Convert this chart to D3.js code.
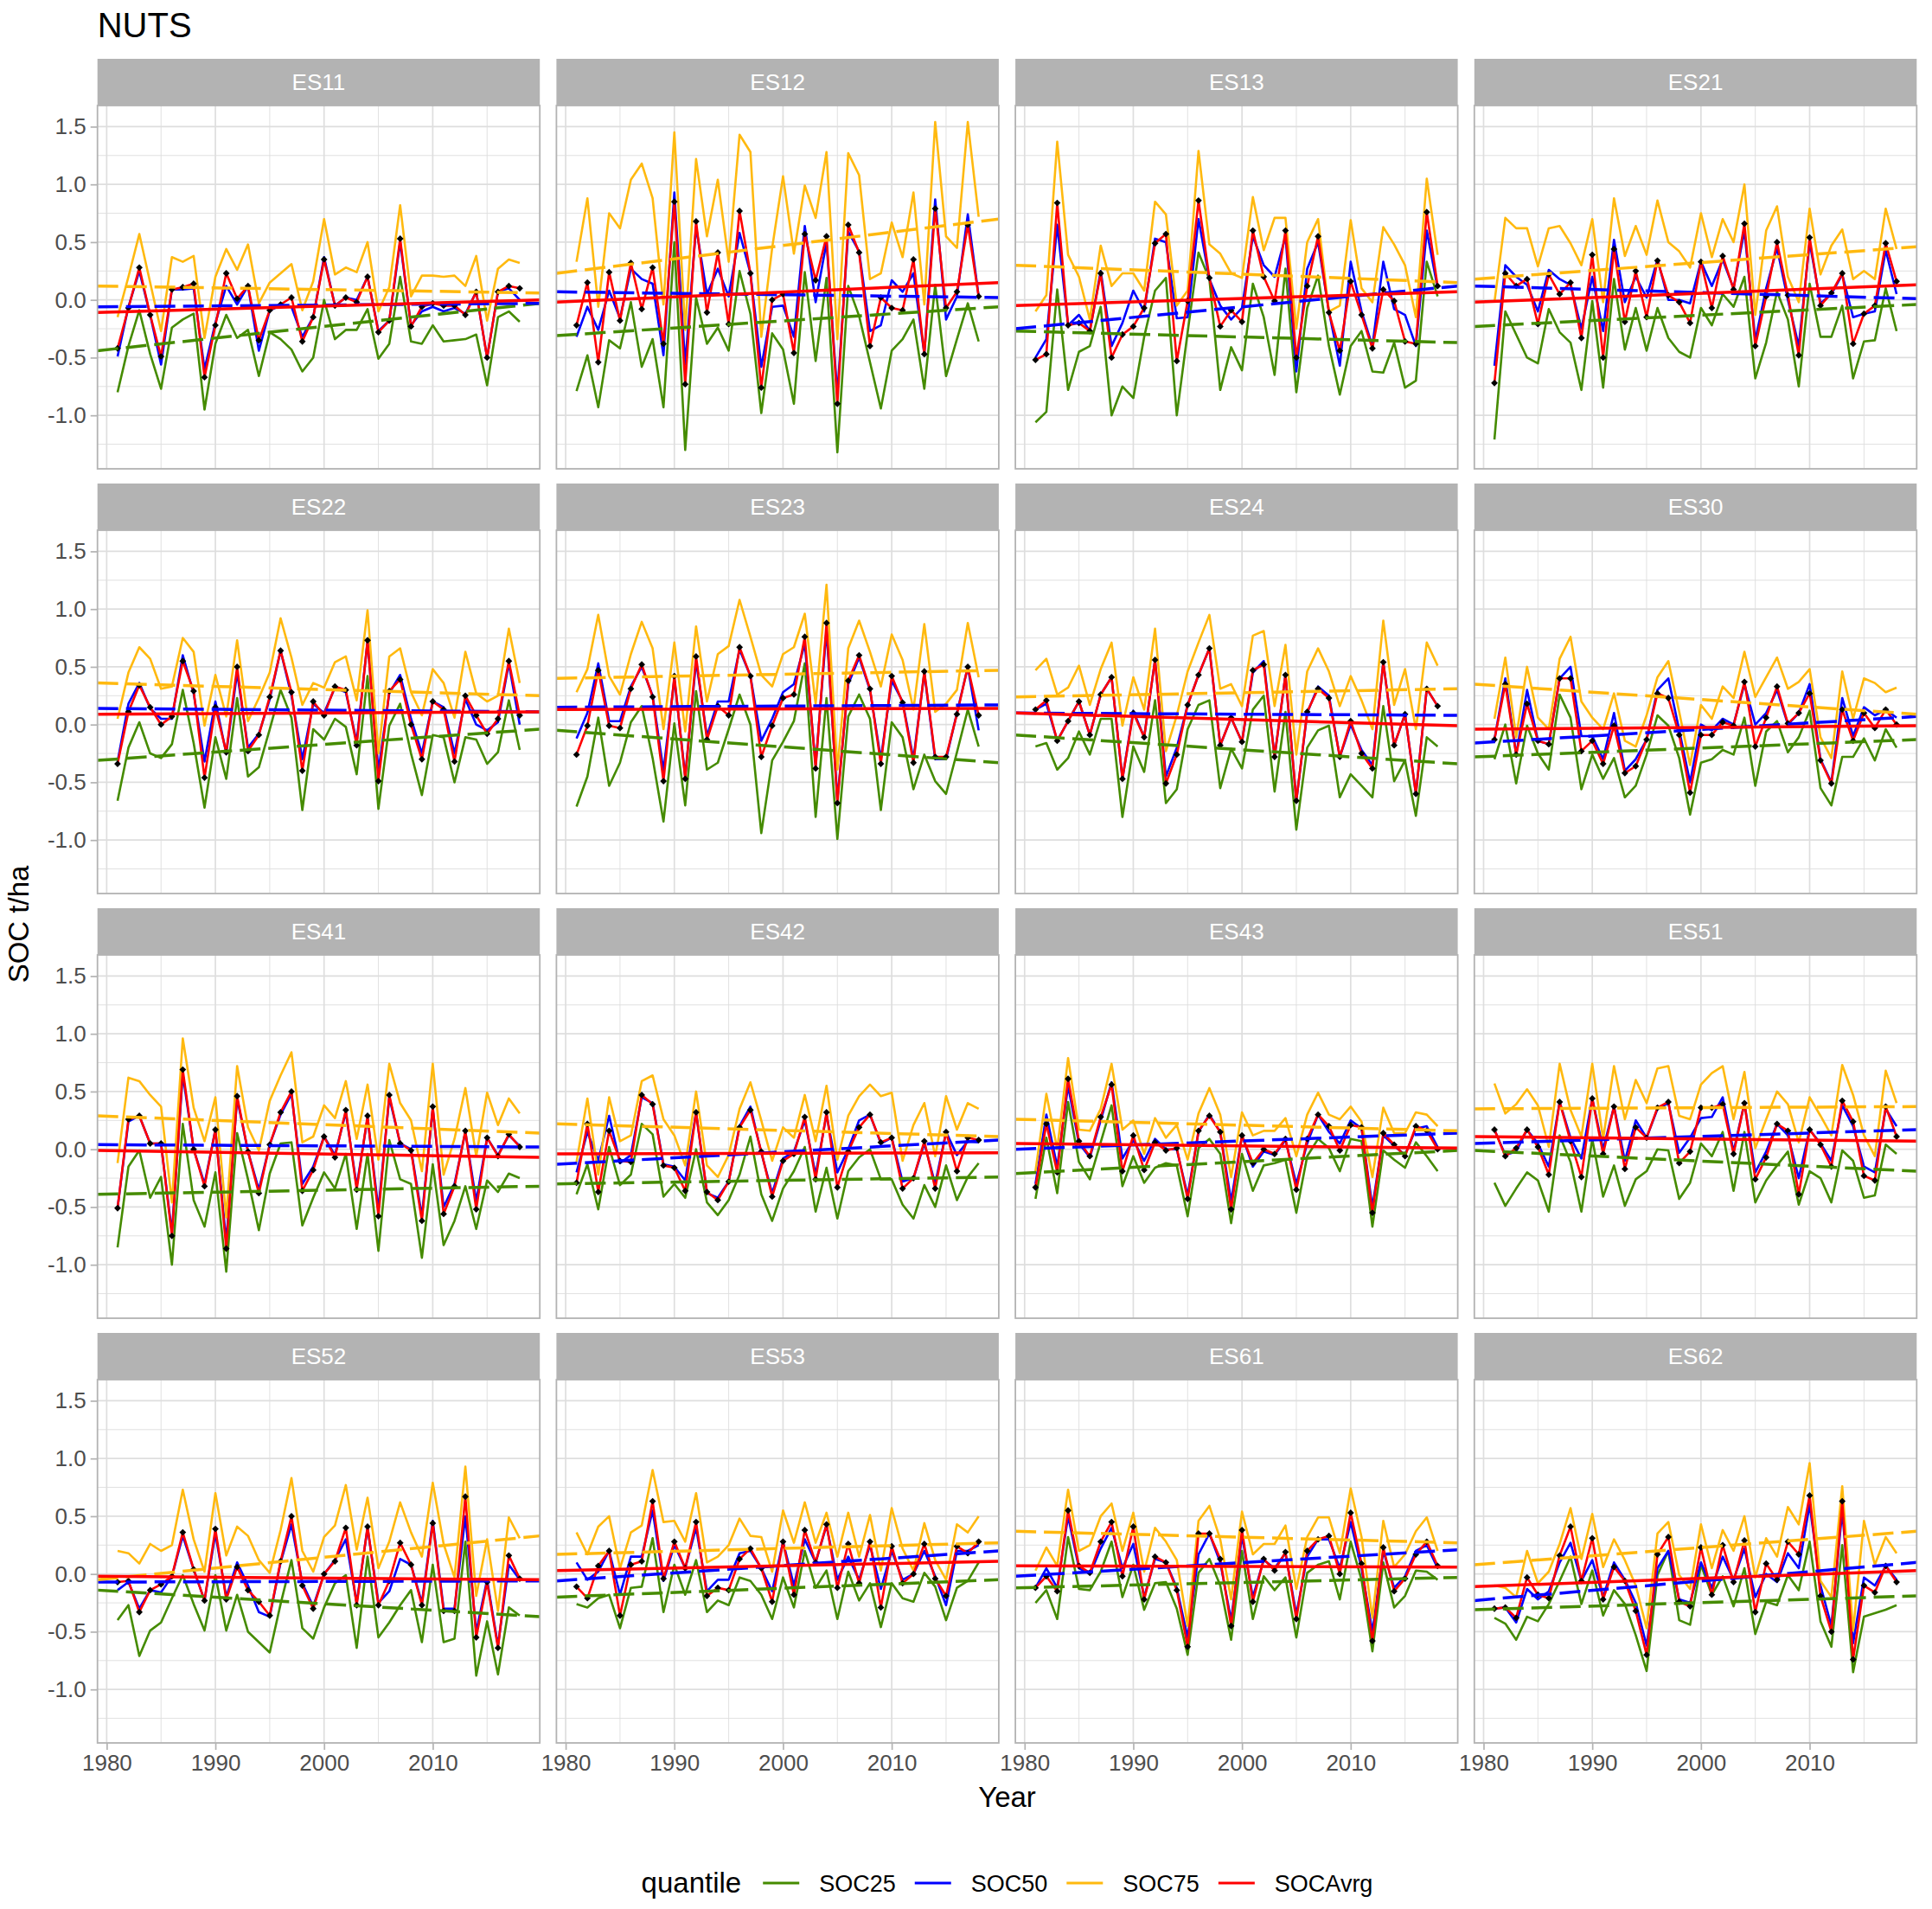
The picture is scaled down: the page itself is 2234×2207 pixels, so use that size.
<!DOCTYPE html>
<html>
<head>
<meta charset="utf-8">
<script src="https://cdn.jsdelivr.net/npm/d3@7"></script>
<style>
  body { margin: 0; background: #fff; }
  text { font-family: "Liberation Sans", Arial, sans-serif; }
</style>
</head>
<body>
<div id="chart"></div>
<script>
// ---- data ----
const years = [1981,1982,1983,1984,1985,1986,1987,1988,1989,1990,1991,1992,1993,1994,1995,1996,1997,1998,1999,2000,
               2001,2002,2003,2004,2005,2006,2007,2008,2009,2010,2011,2012,2013,2014,2015,2016,2017,2018];
const regions = ["ES11","ES12","ES13","ES21","ES22","ES23","ES24","ES30","ES41","ES42","ES43","ES51","ES52","ES53","ES61","ES62"];
const quantiles = ["SOC25","SOC50","SOC75","SOCAvrg"];
const yTickLabels = ["-1.0","-0.5","0.0","0.5","1.0","1.5"];
const xTickLabels = ["1980","1990","2000","2010"];

const ES11_SOC25 = [-0.8,-0.4,-0.09,-0.47,-0.77,-0.24,-0.17,-0.12,-0.95,-0.38,-0.13,-0.33,-0.26,-0.66,-0.28,-0.34,-0.43,-0.62,-0.5,0.0,-0.34,-0.26,-0.26,-0.08,-0.51,-0.38,0.2,-0.36,-0.38,-0.22,-0.36,-0.35,-0.34,-0.3,-0.74,-0.15,-0.1,-0.19];
const ES11_SOC50 = [-0.49,-0.06,0.25,-0.13,-0.56,0.09,0.09,0.1,-0.6,-0.2,0.12,-0.04,0.12,-0.44,-0.09,-0.05,-0.06,-0.32,-0.15,0.37,-0.05,0.02,0.0,0.2,-0.27,-0.18,0.5,-0.22,-0.1,-0.06,-0.1,-0.07,-0.12,0.07,-0.5,0.07,0.1,0.0];
const ES11_SOC75 = [-0.15,0.2,0.57,0.15,-0.27,0.37,0.33,0.38,-0.33,0.2,0.44,0.26,0.48,-0.03,0.15,0.23,0.31,-0.09,0.16,0.7,0.22,0.28,0.24,0.5,-0.1,0.11,0.82,0.03,0.21,0.21,0.2,0.21,0.12,0.38,-0.18,0.27,0.35,0.32];
const ES11_SOCAvrg = [-0.42,-0.07,0.28,-0.13,-0.49,0.09,0.11,0.14,-0.67,-0.22,0.23,0.01,0.12,-0.35,-0.09,-0.04,0.02,-0.36,-0.15,0.35,-0.05,0.02,-0.02,0.2,-0.28,-0.18,0.53,-0.23,-0.06,-0.03,-0.05,-0.05,-0.13,0.07,-0.5,0.07,0.12,0.1];

const ES12_SOC25 = [-0.79,-0.48,-0.93,-0.35,-0.42,-0.02,-0.58,-0.34,-0.93,0.5,-1.3,0.02,-0.38,-0.24,-0.44,0.25,-0.12,-0.98,-0.29,-0.43,-0.9,0.24,-0.53,0.19,-1.32,0.12,-0.14,-0.54,-0.94,-0.44,-0.34,-0.17,-0.77,0.13,-0.66,-0.34,-0.03,-0.36];
const ES12_SOC50 = [-0.32,-0.06,-0.26,0.08,-0.16,0.27,0.18,0.14,-0.48,0.93,-0.56,0.63,0.05,0.27,0.03,0.58,0.23,-0.58,-0.06,-0.05,-0.32,0.64,-0.02,0.5,-0.82,0.59,0.42,-0.27,-0.22,0.17,0.07,0.23,-0.47,0.87,-0.17,0.03,0.74,0.03];
const ES12_SOC75 = [0.33,0.88,-0.06,0.75,0.62,1.04,1.18,0.88,-0.04,1.45,-0.26,1.22,0.55,1.04,0.33,1.43,1.28,-0.32,0.45,1.07,0.4,0.99,0.71,1.28,-0.34,1.27,1.08,0.18,0.23,0.67,0.37,0.93,-0.04,1.54,0.55,0.45,1.54,0.72];
const ES12_SOCAvrg = [-0.22,0.15,-0.54,0.24,-0.18,0.32,-0.08,0.28,-0.38,0.85,-0.73,0.68,-0.11,0.41,-0.21,0.77,0.23,-0.76,0.0,0.05,-0.46,0.57,0.17,0.55,-0.9,0.65,0.41,-0.4,0.02,-0.07,-0.09,0.35,-0.47,0.79,-0.07,0.07,0.65,0.03];

const ES13_SOC25 = [-1.06,-0.97,0.09,-0.78,-0.45,-0.4,-0.06,-1.0,-0.75,-0.85,-0.32,0.08,0.19,-1.0,-0.28,0.41,0.18,-0.78,-0.41,-0.61,0.14,-0.15,-0.65,0.27,-0.8,-0.07,0.21,-0.4,-0.82,-0.4,-0.27,-0.62,-0.63,-0.37,-0.76,-0.7,0.33,0.03];
const ES13_SOC50 = [-0.5,-0.34,0.65,-0.22,-0.13,-0.27,0.25,-0.4,-0.2,0.08,-0.1,0.53,0.5,-0.16,-0.15,0.7,0.18,-0.05,-0.17,-0.07,0.55,0.3,0.2,0.55,-0.62,0.27,0.5,-0.1,-0.57,0.33,-0.1,-0.4,0.33,-0.08,-0.13,-0.4,0.6,0.1];
const ES13_SOC75 = [-0.1,0.04,1.37,0.39,0.2,-0.17,0.47,0.12,0.23,0.23,0.08,0.85,0.74,-0.05,0.08,1.29,0.48,0.4,0.23,0.19,0.89,0.43,0.71,0.71,-0.25,0.5,0.7,-0.1,-0.05,0.69,0.1,-0.02,0.63,0.48,0.3,-0.15,1.05,0.39];
const ES13_SOCAvrg = [-0.52,-0.47,0.84,-0.22,-0.2,-0.27,0.23,-0.5,-0.3,-0.23,-0.07,0.49,0.57,-0.53,-0.01,0.86,0.19,-0.23,-0.09,-0.19,0.6,0.2,-0.01,0.6,-0.5,0.12,0.55,-0.11,-0.44,0.16,-0.13,-0.42,0.09,-0.01,-0.36,-0.38,0.76,0.12];

const ES21_SOC25 = [-1.21,-0.1,-0.3,-0.5,-0.55,-0.08,-0.28,-0.37,-0.78,-0.01,-0.76,0.18,-0.43,-0.07,-0.44,-0.07,-0.33,-0.45,-0.5,-0.07,-0.22,0.05,-0.06,0.2,-0.68,-0.37,0.07,-0.17,-0.75,0.14,-0.32,-0.32,-0.05,-0.68,-0.36,-0.35,0.1,-0.27];
const ES21_SOC50 = [-0.57,0.3,0.2,0.13,-0.1,0.26,0.18,0.13,-0.25,0.2,-0.27,0.52,-0.02,0.2,0.02,0.35,0.0,0.0,-0.03,0.33,0.12,0.35,0.1,0.6,-0.35,0.1,0.45,0.0,-0.4,0.5,-0.03,0.05,0.22,-0.15,-0.12,-0.1,0.43,0.05];
const ES21_SOC75 = [-0.02,0.71,0.62,0.62,0.29,0.62,0.64,0.49,0.3,0.7,-0.02,0.88,0.38,0.64,0.39,0.86,0.5,0.42,0.28,0.75,0.37,0.7,0.5,1.0,-0.13,0.6,0.81,0.2,-0.02,0.79,0.22,0.47,0.61,0.18,0.25,0.18,0.79,0.44];
const ES21_SOCAvrg = [-0.72,0.23,0.12,0.18,-0.21,0.22,0.05,0.15,-0.33,0.39,-0.5,0.44,-0.19,0.25,-0.15,0.34,0.04,-0.02,-0.2,0.33,-0.07,0.38,0.09,0.66,-0.4,0.03,0.5,0.04,-0.48,0.54,-0.05,0.06,0.23,-0.38,-0.12,-0.05,0.49,0.16];

const ES22_SOC25 = [-0.66,-0.2,0.02,-0.25,-0.29,-0.17,0.3,-0.16,-0.72,-0.11,-0.47,0.23,-0.45,-0.37,-0.04,0.3,0.06,-0.74,-0.04,-0.13,0.05,-0.02,-0.43,0.42,-0.73,-0.01,0.18,-0.25,-0.61,-0.09,-0.11,-0.5,-0.11,-0.13,-0.34,-0.24,0.21,-0.22];
const ES22_SOC50 = [-0.32,0.18,0.36,0.14,0.05,0.05,0.6,0.27,-0.32,0.2,-0.25,0.45,-0.2,-0.08,0.22,0.64,0.25,-0.3,0.18,0.1,0.32,0.28,-0.15,0.72,-0.4,0.27,0.43,0.05,-0.25,0.2,0.15,-0.25,0.22,0.0,-0.05,0.02,0.53,0.0];
const ES22_SOC75 = [0.05,0.45,0.67,0.57,0.31,0.33,0.75,0.63,-0.01,0.43,0.07,0.73,0.03,0.23,0.45,0.92,0.58,0.17,0.36,0.32,0.54,0.59,0.21,0.99,-0.25,0.59,0.66,0.28,0.08,0.48,0.36,0.06,0.63,0.27,0.2,0.25,0.83,0.36];
const ES22_SOCAvrg = [-0.34,0.11,0.34,0.15,0.0,0.07,0.55,0.29,-0.46,0.15,-0.24,0.5,-0.23,-0.09,0.24,0.64,0.28,-0.4,0.2,0.08,0.33,0.3,-0.18,0.73,-0.49,0.29,0.39,0.0,-0.3,0.2,0.13,-0.32,0.25,0.08,-0.08,0.05,0.55,0.08];

const ES23_SOC25 = [-0.71,-0.45,0.06,-0.53,-0.33,0.02,0.16,-0.29,-0.84,0.01,-0.7,0.29,-0.39,-0.33,-0.04,0.26,0.0,-0.94,-0.31,-0.15,0.03,0.53,-0.8,0.23,-0.99,0.07,0.26,0.05,-0.74,0.02,-0.11,-0.56,-0.26,-0.49,-0.6,-0.24,0.13,-0.19];
const ES23_SOC50 = [-0.12,0.1,0.53,0.03,0.03,0.33,0.5,0.25,-0.4,0.4,-0.45,0.55,-0.1,0.2,0.2,0.65,0.42,-0.14,0.05,0.28,0.35,0.7,-0.35,0.82,-0.65,0.35,0.58,0.3,-0.3,0.38,0.2,-0.3,0.45,-0.3,-0.3,0.1,0.5,-0.05];
const ES23_SOC75 = [0.28,0.48,0.95,0.42,0.26,0.61,0.89,0.66,-0.04,0.71,-0.06,0.85,0.2,0.61,0.68,1.08,0.76,0.43,0.33,0.61,0.67,0.96,0.18,1.21,-0.39,0.66,0.9,0.63,0.33,0.78,0.56,0.13,0.87,0.11,0.18,0.3,0.88,0.41];
const ES23_SOCAvrg = [-0.26,-0.01,0.47,-0.01,-0.03,0.31,0.52,0.24,-0.49,0.42,-0.47,0.59,-0.13,0.16,0.08,0.67,0.42,-0.28,-0.01,0.23,0.26,0.76,-0.38,0.88,-0.68,0.38,0.6,0.31,-0.34,0.42,0.19,-0.33,0.46,-0.28,-0.28,0.09,0.5,0.08];

const ES24_SOC25 = [-0.19,-0.16,-0.39,-0.29,-0.06,-0.26,0.05,0.05,-0.8,-0.19,-0.41,0.21,-0.68,-0.56,-0.04,0.17,0.21,-0.55,-0.21,-0.38,0.13,0.25,-0.58,0.11,-0.91,-0.2,-0.05,-0.01,-0.63,-0.43,-0.53,-0.63,0.16,-0.49,-0.31,-0.79,-0.11,-0.19];
const ES24_SOC50 = [0.13,0.18,-0.14,0.03,0.2,-0.09,0.26,0.41,-0.47,0.12,-0.11,0.56,-0.45,-0.2,0.17,0.43,0.66,-0.18,0.06,-0.15,0.45,0.55,-0.28,0.43,-0.66,0.1,0.33,0.25,-0.28,0.0,-0.22,-0.35,0.54,-0.18,0.09,-0.6,0.31,0.16];
const ES24_SOC75 = [0.47,0.57,0.26,0.32,0.51,0.17,0.48,0.71,-0.01,0.41,0.13,0.83,-0.23,0.08,0.46,0.71,0.95,0.31,0.35,0.16,0.77,0.81,0.16,0.69,-0.26,0.46,0.66,0.46,0.16,0.42,0.21,-0.04,0.9,0.17,0.48,-0.04,0.71,0.51];
const ES24_SOCAvrg = [0.13,0.21,-0.14,0.03,0.2,-0.09,0.26,0.41,-0.47,0.1,-0.11,0.56,-0.51,-0.26,0.17,0.43,0.66,-0.18,0.06,-0.15,0.47,0.52,-0.28,0.43,-0.66,0.11,0.31,0.23,-0.28,0.03,-0.25,-0.38,0.54,-0.18,0.09,-0.6,0.31,0.16];

const ES30_SOC25 = [-0.3,0.0,-0.51,-0.01,-0.25,-0.39,0.26,0.06,-0.56,-0.26,-0.47,-0.29,-0.63,-0.53,-0.26,0.08,-0.01,-0.29,-0.78,-0.33,-0.3,-0.22,-0.26,0.06,-0.53,-0.06,0.03,-0.24,-0.11,0.12,-0.55,-0.7,-0.28,-0.28,-0.12,-0.31,-0.04,-0.2];
const ES30_SOC50 = [-0.13,0.4,-0.26,0.3,-0.14,-0.17,0.4,0.5,-0.1,-0.1,-0.3,0.1,-0.4,-0.3,-0.13,0.3,0.4,-0.05,-0.5,0.0,-0.05,0.05,0.0,0.35,0.0,0.1,0.3,0.0,0.1,0.35,-0.3,-0.5,0.23,-0.1,0.15,0.08,0.13,0.06];
const ES30_SOC75 = [0.05,0.58,-0.11,0.5,0.06,-0.04,0.57,0.76,0.2,0.06,-0.04,0.27,-0.14,-0.19,0.08,0.41,0.55,0.11,-0.35,0.17,0.05,0.33,0.23,0.63,0.24,0.41,0.58,0.31,0.37,0.48,-0.11,-0.29,0.46,0.05,0.4,0.36,0.28,0.32];
const ES30_SOCAvrg = [-0.13,0.35,-0.26,0.18,-0.14,-0.17,0.4,0.4,-0.23,-0.14,-0.34,-0.01,-0.42,-0.36,-0.13,0.27,0.23,-0.09,-0.59,-0.09,-0.09,0.02,-0.01,0.37,-0.19,0.06,0.33,0.01,0.1,0.27,-0.31,-0.51,0.13,-0.14,0.1,-0.03,0.13,0.0];

const ES41_SOC25 = [-0.85,-0.15,-0.01,-0.42,-0.24,-1.0,0.22,-0.44,-0.67,-0.2,-1.06,0.14,-0.26,-0.7,-0.21,0.05,0.06,-0.66,-0.42,-0.2,-0.34,-0.04,-0.69,-0.04,-0.88,0.08,-0.26,-0.3,-0.94,-0.13,-0.83,-0.62,-0.32,-0.69,-0.27,-0.37,-0.21,-0.25];
const ES41_SOC50 = [-0.51,0.24,0.29,0.05,0.05,-0.72,0.65,0.0,-0.3,0.17,-0.8,0.44,-0.02,-0.35,0.04,0.3,0.48,-0.3,-0.15,0.11,-0.05,0.32,-0.32,0.27,-0.52,0.45,0.05,0.0,-0.58,0.35,-0.5,-0.3,0.15,-0.45,0.1,-0.05,0.12,0.03];
const ES41_SOC75 = [-0.12,0.62,0.59,0.47,0.37,-0.46,0.96,0.36,0.07,0.45,-0.59,0.72,0.19,-0.01,0.42,0.64,0.84,0.06,0.11,0.38,0.27,0.59,0.09,0.56,-0.09,0.74,0.4,0.25,-0.19,0.74,-0.22,0.09,0.53,-0.06,0.49,0.21,0.44,0.31];
const ES41_SOCAvrg = [-0.51,0.26,0.29,0.05,0.05,-0.75,0.69,0.0,-0.32,0.17,-0.86,0.46,-0.02,-0.38,0.04,0.32,0.5,-0.36,-0.18,0.11,-0.07,0.34,-0.35,0.29,-0.58,0.47,0.05,-0.01,-0.62,0.37,-0.56,-0.32,0.16,-0.52,0.1,-0.06,0.13,0.02];

const ES42_SOC25 = [-0.39,-0.13,-0.52,0.02,-0.31,-0.22,0.22,0.13,-0.41,-0.3,-0.42,0.0,-0.46,-0.57,-0.44,-0.22,0.11,-0.39,-0.62,-0.34,-0.19,0.02,-0.54,-0.16,-0.6,-0.19,-0.07,0.0,-0.26,-0.26,-0.48,-0.6,-0.31,-0.5,-0.14,-0.44,-0.24,-0.12];
const ES42_SOC50 = [-0.2,0.15,-0.1,0.29,-0.12,-0.05,0.45,0.4,-0.13,-0.15,-0.27,0.32,-0.38,-0.42,-0.28,0.2,0.37,-0.03,-0.38,-0.08,-0.02,0.25,-0.22,0.3,-0.2,0.0,0.25,0.3,0.05,0.1,-0.28,-0.25,0.05,-0.3,0.15,-0.05,0.07,0.06];
const ES42_SOC75 = [-0.11,0.44,-0.22,0.45,0.07,0.12,0.59,0.64,0.26,0.12,-0.14,0.5,-0.14,-0.24,-0.05,0.35,0.58,0.25,-0.1,0.19,0.1,0.47,0.07,0.55,-0.09,0.29,0.46,0.56,0.46,0.49,-0.1,0.21,0.4,-0.06,0.46,0.17,0.4,0.35];
const ES42_SOCAvrg = [-0.29,0.22,-0.37,0.16,-0.1,-0.11,0.47,0.39,-0.14,-0.16,-0.36,0.32,-0.37,-0.44,-0.28,0.19,0.34,-0.02,-0.41,-0.1,-0.04,0.28,-0.26,0.32,-0.33,-0.02,0.19,0.3,0.06,0.1,-0.34,-0.25,0.07,-0.34,0.15,-0.19,0.1,0.08];

const ES43_SOC25 = [-0.43,0.1,-0.38,0.41,-0.11,-0.26,0.06,0.38,-0.32,-0.06,-0.29,-0.16,-0.12,-0.14,-0.58,0.01,0.09,-0.04,-0.64,-0.04,-0.36,-0.14,-0.12,-0.09,-0.55,-0.06,0.09,0.01,-0.19,0.09,0.07,-0.67,-0.01,-0.09,-0.16,0.06,-0.06,-0.19];
const ES43_SOC50 = [-0.3,0.3,-0.15,0.55,0.05,-0.07,0.25,0.58,-0.08,0.08,-0.1,0.09,0.0,0.0,-0.4,0.15,0.3,0.15,-0.45,0.12,-0.15,-0.02,-0.05,0.08,-0.3,0.05,0.3,0.15,0.05,0.25,0.18,-0.5,0.12,0.03,-0.05,0.18,0.2,0.02];
const ES43_SOC75 = [-0.19,0.48,0.0,0.79,0.17,0.16,0.35,0.74,0.17,0.25,-0.04,0.27,0.1,0.21,-0.09,0.31,0.53,0.3,-0.24,0.32,0.12,0.16,0.16,0.27,-0.06,0.3,0.49,0.3,0.26,0.37,0.24,-0.24,0.36,0.14,0.14,0.32,0.3,0.2];
const ES43_SOCAvrg = [-0.33,0.22,-0.2,0.61,0.07,-0.06,0.28,0.56,-0.19,0.12,-0.18,0.06,-0.01,0.01,-0.43,0.16,0.29,0.15,-0.52,0.12,-0.12,0.0,-0.04,0.09,-0.35,0.09,0.3,0.2,-0.01,0.21,0.19,-0.55,0.14,0.04,-0.06,0.2,0.16,0.0];

const ES51_SOC25 = [-0.29,-0.49,-0.34,-0.2,-0.27,-0.54,0.12,-0.11,-0.54,0.09,-0.41,-0.14,-0.49,-0.26,-0.19,0.0,-0.01,-0.43,-0.29,0.05,-0.06,0.15,-0.36,0.15,-0.46,-0.27,-0.14,-0.02,-0.48,-0.19,-0.25,-0.46,-0.01,-0.1,-0.42,-0.4,0.04,-0.04];
const ES51_SOC50 = [0.17,-0.05,-0.02,0.17,0.05,-0.15,0.41,0.1,-0.08,0.44,0.0,0.37,-0.1,0.25,0.1,0.35,0.4,-0.03,0.1,0.27,0.28,0.45,-0.02,0.4,-0.2,-0.02,0.22,0.12,-0.25,0.17,0.05,-0.1,0.38,0.2,-0.15,-0.2,0.35,0.2];
const ES51_SOC75 = [0.57,0.31,0.39,0.52,0.38,0.02,0.74,0.34,0.11,0.74,0.09,0.72,0.26,0.6,0.4,0.7,0.72,0.29,0.26,0.56,0.66,0.72,0.26,0.67,0.01,0.26,0.5,0.39,0.06,0.45,0.29,0.12,0.73,0.47,0.12,-0.06,0.68,0.4];
const ES51_SOCAvrg = [0.17,-0.06,0.01,0.17,0.02,-0.22,0.41,0.07,-0.24,0.44,-0.04,0.37,-0.17,0.19,0.1,0.36,0.41,-0.12,-0.02,0.36,0.36,0.39,-0.04,0.4,-0.26,-0.07,0.22,0.16,-0.39,0.17,0.04,-0.15,0.42,0.24,-0.23,-0.27,0.37,0.11];

const ES52_SOC25 = [-0.4,-0.27,-0.71,-0.49,-0.42,-0.21,-0.01,-0.26,-0.49,-0.01,-0.49,-0.18,-0.5,-0.59,-0.68,-0.26,0.12,-0.47,-0.56,-0.29,-0.08,-0.01,-0.64,0.15,-0.55,-0.42,-0.27,-0.14,-0.59,0.08,-0.59,-0.56,0.28,-0.88,-0.41,-0.87,-0.29,-0.36];
const ES52_SOC50 = [-0.14,-0.07,-0.3,-0.14,-0.16,-0.02,0.33,0.04,-0.23,0.35,-0.2,0.1,-0.1,-0.33,-0.37,0.1,0.43,-0.08,-0.28,0.0,0.12,0.3,-0.25,0.4,-0.25,-0.15,0.13,0.08,-0.25,0.46,-0.3,-0.3,0.5,-0.5,-0.05,-0.62,0.08,-0.05];
const ES52_SOC75 = [0.2,0.18,0.09,0.26,0.2,0.25,0.73,0.3,0.02,0.7,0.16,0.41,0.33,0.12,0.01,0.38,0.83,0.2,0.02,0.32,0.42,0.77,0.21,0.66,0.05,0.28,0.62,0.36,0.15,0.79,0.26,-0.03,0.93,-0.19,0.3,-0.32,0.49,0.31];
const ES52_SOCAvrg = [-0.07,-0.06,-0.33,-0.14,-0.09,-0.02,0.36,0.04,-0.23,0.39,-0.22,0.06,-0.14,-0.24,-0.36,0.11,0.5,-0.1,-0.3,0.0,0.11,0.4,-0.27,0.41,-0.27,-0.06,0.27,0.08,-0.27,0.44,-0.32,-0.32,0.67,-0.55,-0.07,-0.64,0.16,-0.04];

const ES53_SOC25 = [-0.26,-0.29,-0.21,-0.18,-0.47,-0.12,-0.11,0.31,-0.33,0.08,-0.18,0.12,-0.33,-0.23,-0.27,-0.03,-0.06,-0.18,-0.39,-0.03,-0.29,0.2,-0.12,0.03,-0.39,0.02,-0.23,-0.08,-0.46,-0.08,-0.21,-0.24,0.01,-0.11,-0.4,-0.12,-0.06,0.1];
const ES53_SOC50 = [0.1,-0.05,0.02,0.2,-0.18,0.15,0.15,0.55,-0.06,0.25,0.05,0.4,-0.15,-0.05,-0.05,0.18,0.2,0.05,-0.15,0.28,-0.1,0.3,0.1,0.42,-0.05,0.15,-0.05,0.25,-0.13,0.2,-0.05,0.0,0.2,-0.02,-0.27,0.2,0.2,0.25];
const ES53_SOC75 = [0.36,0.17,0.41,0.5,0.05,0.36,0.42,0.9,0.45,0.46,0.28,0.7,0.1,0.15,0.25,0.48,0.33,0.32,0.02,0.55,0.27,0.62,0.27,0.53,0.15,0.53,0.15,0.51,0.03,0.57,0.22,0.03,0.44,0.12,-0.05,0.43,0.36,0.5];
const ES53_SOCAvrg = [-0.11,-0.21,0.07,0.2,-0.36,0.08,0.11,0.63,-0.04,0.28,0.05,0.45,-0.19,-0.12,-0.14,0.13,0.22,0.05,-0.24,0.28,-0.18,0.38,0.1,0.43,-0.12,0.26,-0.08,0.28,-0.29,0.24,-0.08,0.0,0.26,-0.04,-0.19,0.24,0.18,0.28];

const ES61_SOC25 = [-0.25,-0.14,-0.39,0.32,-0.13,-0.14,0.02,0.28,-0.2,0.08,-0.31,-0.08,-0.07,-0.3,-0.7,0.01,0.13,-0.1,-0.57,0.2,-0.39,-0.02,-0.14,-0.03,-0.55,0.01,0.08,0.11,-0.22,0.28,-0.05,-0.67,0.1,-0.29,-0.19,0.03,0.02,-0.05];
const ES61_SOC50 = [-0.12,0.05,-0.12,0.5,0.05,0.0,0.22,0.4,0.05,0.26,-0.2,0.13,0.1,-0.12,-0.55,0.17,0.35,0.1,-0.4,0.33,-0.2,0.12,0.05,0.18,-0.35,0.15,0.3,0.3,0.05,0.45,0.05,-0.5,0.2,-0.12,-0.02,0.2,0.25,0.05];
const ES61_SOC75 = [0.03,0.23,0.07,0.73,0.2,0.25,0.5,0.61,0.2,0.53,0.02,0.4,0.28,0.12,-0.45,0.46,0.59,0.3,-0.22,0.54,0.17,0.26,0.26,0.42,-0.13,0.32,0.49,0.49,0.18,0.74,0.32,-0.38,0.46,0.06,0.17,0.37,0.49,0.2];
const ES61_SOCAvrg = [-0.12,-0.02,-0.15,0.55,0.07,0.01,0.28,0.45,-0.02,0.41,-0.22,0.15,0.1,-0.14,-0.63,0.35,0.35,0.13,-0.45,0.38,-0.24,0.13,0.03,0.19,-0.39,0.2,0.3,0.33,0.0,0.53,0.09,-0.58,0.23,-0.15,-0.04,0.17,0.28,0.07];

const ES62_SOC25 = [-0.38,-0.43,-0.57,-0.37,-0.41,-0.26,-0.06,0.15,-0.26,0.03,-0.36,-0.14,-0.26,-0.53,-0.84,-0.01,0.2,-0.4,-0.44,0.08,-0.18,-0.02,-0.28,0.05,-0.52,-0.24,-0.27,-0.01,-0.14,0.28,-0.41,-0.63,0.25,-0.85,-0.37,-0.34,-0.31,-0.27];
const ES62_SOC50 = [-0.3,-0.29,-0.42,-0.13,-0.22,-0.15,0.1,0.27,-0.06,0.12,-0.2,0.1,-0.05,-0.25,-0.62,0.05,0.2,-0.22,-0.25,0.1,-0.12,0.15,-0.05,0.22,-0.2,0.0,-0.07,0.18,0.05,0.6,-0.1,-0.45,0.55,-0.6,-0.03,-0.1,0.07,-0.05];
const ES62_SOC75 = [-0.1,-0.12,-0.2,0.2,-0.08,0.02,0.26,0.57,0.13,0.52,0.06,0.3,0.12,-0.1,-0.47,0.35,0.45,-0.01,-0.13,0.43,0.05,0.38,0.2,0.5,-0.03,0.31,0.15,0.58,0.43,0.96,-0.06,-0.2,0.76,-0.49,0.46,0.08,0.32,0.18];
const ES62_SOCAvrg = [-0.3,-0.29,-0.38,-0.03,-0.18,-0.21,0.16,0.41,-0.06,0.31,-0.22,0.06,-0.06,-0.32,-0.7,0.17,0.32,-0.24,-0.28,0.23,-0.18,0.25,-0.07,0.29,-0.33,0.09,-0.05,0.28,0.17,0.68,-0.19,-0.5,0.63,-0.74,-0.1,-0.16,0.07,-0.07];

// trend lines: value at the left and right end of the x range, one per region (order of `regions`)
const trendStart_SOC25   = [-0.44,-0.31,-0.27,-0.23,-0.31,-0.05,-0.09,-0.28,-0.39,-0.3,-0.21,-0.01,-0.14,-0.2,-0.12,-0.31];
const trendEnd_SOC25     = [-0.03,-0.06,-0.37,-0.04,-0.04,-0.33,-0.34,-0.13,-0.32,-0.24,-0.01,-0.19,-0.37,-0.05,-0.03,-0.19];
const trendStart_SOC50   = [-0.06,0.07,-0.25,0.12,0.14,0.15,0.1,-0.16,0.04,-0.13,0.0,0.05,-0.07,-0.06,-0.02,-0.23];
const trendEnd_SOC50     = [-0.03,0.02,0.12,0.01,0.11,0.17,0.08,0.07,0.02,0.08,0.14,0.17,-0.06,0.2,0.21,0.1];
const trendStart_SOC75   = [0.12,0.23,0.3,0.18,0.36,0.4,0.24,0.35,0.29,0.22,0.26,0.35,-0.05,0.17,0.37,0.08];
const trendEnd_SOC75     = [0.06,0.7,0.15,0.46,0.25,0.47,0.31,0.09,0.14,0.11,0.16,0.37,0.33,0.27,0.27,0.37];
const trendStart_SOCAvrg = [-0.11,-0.02,-0.05,-0.02,0.09,0.13,0.1,-0.04,-0.01,-0.04,0.05,0.11,-0.02,0.03,0.07,-0.11];
const trendEnd_SOCAvrg   = [0.0,0.15,0.07,0.13,0.11,0.14,-0.01,-0.01,-0.07,-0.03,0.01,0.07,-0.05,0.11,0.06,0.03];

// ---- tables built from the arrays ----
const seriesByRegion = {
  ES11: [ES11_SOC25, ES11_SOC50, ES11_SOC75, ES11_SOCAvrg],
  ES12: [ES12_SOC25, ES12_SOC50, ES12_SOC75, ES12_SOCAvrg],
  ES13: [ES13_SOC25, ES13_SOC50, ES13_SOC75, ES13_SOCAvrg],
  ES21: [ES21_SOC25, ES21_SOC50, ES21_SOC75, ES21_SOCAvrg],
  ES22: [ES22_SOC25, ES22_SOC50, ES22_SOC75, ES22_SOCAvrg],
  ES23: [ES23_SOC25, ES23_SOC50, ES23_SOC75, ES23_SOCAvrg],
  ES24: [ES24_SOC25, ES24_SOC50, ES24_SOC75, ES24_SOCAvrg],
  ES30: [ES30_SOC25, ES30_SOC50, ES30_SOC75, ES30_SOCAvrg],
  ES41: [ES41_SOC25, ES41_SOC50, ES41_SOC75, ES41_SOCAvrg],
  ES42: [ES42_SOC25, ES42_SOC50, ES42_SOC75, ES42_SOCAvrg],
  ES43: [ES43_SOC25, ES43_SOC50, ES43_SOC75, ES43_SOCAvrg],
  ES51: [ES51_SOC25, ES51_SOC50, ES51_SOC75, ES51_SOCAvrg],
  ES52: [ES52_SOC25, ES52_SOC50, ES52_SOC75, ES52_SOCAvrg],
  ES53: [ES53_SOC25, ES53_SOC50, ES53_SOC75, ES53_SOCAvrg],
  ES61: [ES61_SOC25, ES61_SOC50, ES61_SOC75, ES61_SOCAvrg],
  ES62: [ES62_SOC25, ES62_SOC50, ES62_SOC75, ES62_SOCAvrg]
};
const trendStarts = [trendStart_SOC25, trendStart_SOC50, trendStart_SOC75, trendStart_SOCAvrg];
const trendEnds = [trendEnd_SOC25, trendEnd_SOC50, trendEnd_SOC75, trendEnd_SOCAvrg];

const color = d3.scaleOrdinal().domain(quantiles).range(["#458B00", "#0000FF", "#FFB90F", "#FF0000"]);

// ---- layout ----
const W = 2234, H = 2207;
const left0 = 112.7, top0 = 68;
const panelW = 511.5, stripH = 54, panelH = 420;
const colPitch = 530.7, rowPitch = 491;
const nCols = 4;
const gridCol = "#DEDEDE", borderCol = "#B3B3B3";

const svg = d3.select("#chart").append("svg")
  .attr("width", W).attr("height", H)
  .style("display", "block");

svg.append("rect").attr("width", W).attr("height", H).attr("fill", "#fff");

// scales shared by all panels (ggplot style 5% expansion)
const xExt = d3.extent(years);
const xPad = (xExt[1] - xExt[0]) * 0.05;
const x = d3.scaleLinear().domain([xExt[0] - xPad, xExt[1] + xPad]).range([0, panelW]);

const allVals = Object.values(seriesByRegion).flat(2);
const yExt = d3.extent(allVals);
const yPad = (yExt[1] - yExt[0]) * 0.05;
const y = d3.scaleLinear().domain([yExt[0] - yPad, yExt[1] + yPad]).range([panelH, 0]);

const xMajor = xTickLabels.map(Number);
const xMinor = xMajor.map(v => v + 5);
const yMajor = yTickLabels.map(Number);
const yMinor = yMajor.map(v => v - 0.25).filter(v => v >= y.domain()[0]);

const line = d3.line().x(d => x(d.year)).y(d => y(d.v));

regions.forEach((reg, k) => {
  const col = k % nCols, row = Math.floor(k / nCols);
  const gx = left0 + col * colPitch;
  const gy = top0 + row * rowPitch;

  // strip
  svg.append("rect")
    .attr("x", gx).attr("y", gy)
    .attr("width", panelW).attr("height", stripH)
    .attr("fill", "#B3B3B3");
  svg.append("text")
    .attr("x", gx + panelW / 2).attr("y", gy + stripH / 2)
    .attr("dy", "0.36em")
    .attr("text-anchor", "middle")
    .attr("fill", "#fff")
    .style("font-size", "26px")
    .text(reg);

  const g = svg.append("g").attr("transform", `translate(${gx},${gy + stripH})`);

  const clipId = "clip" + reg;
  g.append("clipPath").attr("id", clipId)
    .append("rect").attr("width", panelW).attr("height", panelH);

  // grid
  g.selectAll(".xminor").data(xMinor).enter().append("line")
    .attr("x1", d => x(d)).attr("x2", d => x(d))
    .attr("y1", 0).attr("y2", panelH)
    .attr("stroke", gridCol).attr("stroke-width", 0.9);
  g.selectAll(".yminor").data(yMinor).enter().append("line")
    .attr("x1", 0).attr("x2", panelW)
    .attr("y1", d => y(d)).attr("y2", d => y(d))
    .attr("stroke", gridCol).attr("stroke-width", 0.9);
  g.selectAll(".xmajor").data(xMajor).enter().append("line")
    .attr("x1", d => x(d)).attr("x2", d => x(d))
    .attr("y1", 0).attr("y2", panelH)
    .attr("stroke", gridCol).attr("stroke-width", 1.7);
  g.selectAll(".ymajor").data(yMajor).enter().append("line")
    .attr("x1", 0).attr("x2", panelW)
    .attr("y1", d => y(d)).attr("y2", d => y(d))
    .attr("stroke", gridCol).attr("stroke-width", 1.7);

  const plot = g.append("g").attr("clip-path", `url(#${clipId})`);

  // data lines
  const series = quantiles.map((q, qi) => ({
    q: q,
    pts: seriesByRegion[reg][qi].map((v, i) => ({ year: years[i], v: v }))
  }));

  plot.selectAll(".serie").data(series).enter().append("path")
    .attr("fill", "none")
    .attr("stroke", d => color(d.q))
    .attr("stroke-width", 2.6)
    .attr("stroke-linejoin", "round")
    .attr("d", d => line(d.pts));

  // black points on the average
  const avg = series[3].pts;
  plot.selectAll(".pt").data(avg).enter().append("path")
    .attr("transform", d => `translate(${x(d.year)},${y(d.v)})`)
    .attr("d", "M0,-3.9L3.9,0L0,3.9L-3.9,0Z")
    .attr("fill", "#000");

  // trend lines
  const trends = quantiles.map((q, qi) => ({
    q: q,
    pts: [
      { year: x.domain()[0], v: trendStarts[qi][k] },
      { year: x.domain()[1], v: trendEnds[qi][k] }
    ]
  }));
  plot.selectAll(".trend").data(trends).enter().append("path")
    .attr("fill", "none")
    .attr("stroke", d => color(d.q))
    .attr("stroke-width", 3.5)
    .attr("stroke-dasharray", d => d.q === "SOCAvrg" ? null : "24,9")
    .attr("d", d => line(d.pts));

  // border
  g.append("rect")
    .attr("width", panelW).attr("height", panelH)
    .attr("fill", "none")
    .attr("stroke", borderCol).attr("stroke-width", 1.8);

  // axes
  if (col === 0) {
    const ax = g.append("g")
      .call(d3.axisLeft(y).tickValues(yMajor).tickSize(8).tickPadding(5)
        .tickFormat((d, i) => yTickLabels[i]));
    styleAxis(ax);
  }
  if (row === Math.ceil(regions.length / nCols) - 1) {
    const ax = g.append("g").attr("transform", `translate(0,${panelH})`)
      .call(d3.axisBottom(x).tickValues(xMajor).tickSize(8).tickPadding(6)
        .tickFormat((d, i) => xTickLabels[i]));
    styleAxis(ax);
  }
});

function styleAxis(ax) {
  ax.select(".domain").remove();
  ax.selectAll(".tick line").attr("stroke", borderCol).attr("stroke-width", 1.7);
  ax.selectAll(".tick text")
    .attr("fill", "#4D4D4D")
    .style("font-size", "26px")
    .style("font-family", "'Liberation Sans', Arial, sans-serif");
}

// titles
const panelsLeft = left0, panelsRight = left0 + (nCols - 1) * colPitch + panelW;
const panelsCenter = (panelsLeft + panelsRight) / 2;
const bottomEdge = top0 + 3 * rowPitch + stripH + panelH;

svg.append("text")
  .attr("x", left0).attr("y", 43)
  .style("font-size", "40px")
  .attr("fill", "#000")
  .text("NUTS");

svg.append("text")
  .attr("x", panelsCenter).attr("y", bottomEdge + 74)
  .attr("text-anchor", "middle")
  .style("font-size", "33px")
  .attr("fill", "#000")
  .text("Year");

const yMid = (top0 + stripH + bottomEdge) / 2;
svg.append("text")
  .attr("transform", `translate(33,${yMid}) rotate(-90)`)
  .attr("text-anchor", "middle")
  .style("font-size", "33px")
  .attr("fill", "#000")
  .text("SOC t/ha");

// legend
const legY = 2177;
const leg = svg.append("g");
const legTitle = leg.append("text")
  .attr("x", 0).attr("y", legY).attr("dy", "0.32em")
  .style("font-size", "33px")
  .attr("fill", "#000")
  .text("quantile");
let cx = legTitle.node().getComputedTextLength() + 25;
quantiles.forEach(q => {
  leg.append("line")
    .attr("x1", cx).attr("x2", cx + 42)
    .attr("y1", legY).attr("y2", legY)
    .attr("stroke", color(q)).attr("stroke-width", 3);
  const t = leg.append("text")
    .attr("x", cx + 65).attr("y", legY).attr("dy", "0.36em")
    .style("font-size", "27px")
    .attr("fill", "#000")
    .text(q);
  cx += 65 + t.node().getComputedTextLength() + 22;
});
const legW = cx - 22;
leg.attr("transform", `translate(${panelsCenter - legW / 2},0)`);
</script>
</body>
</html>
